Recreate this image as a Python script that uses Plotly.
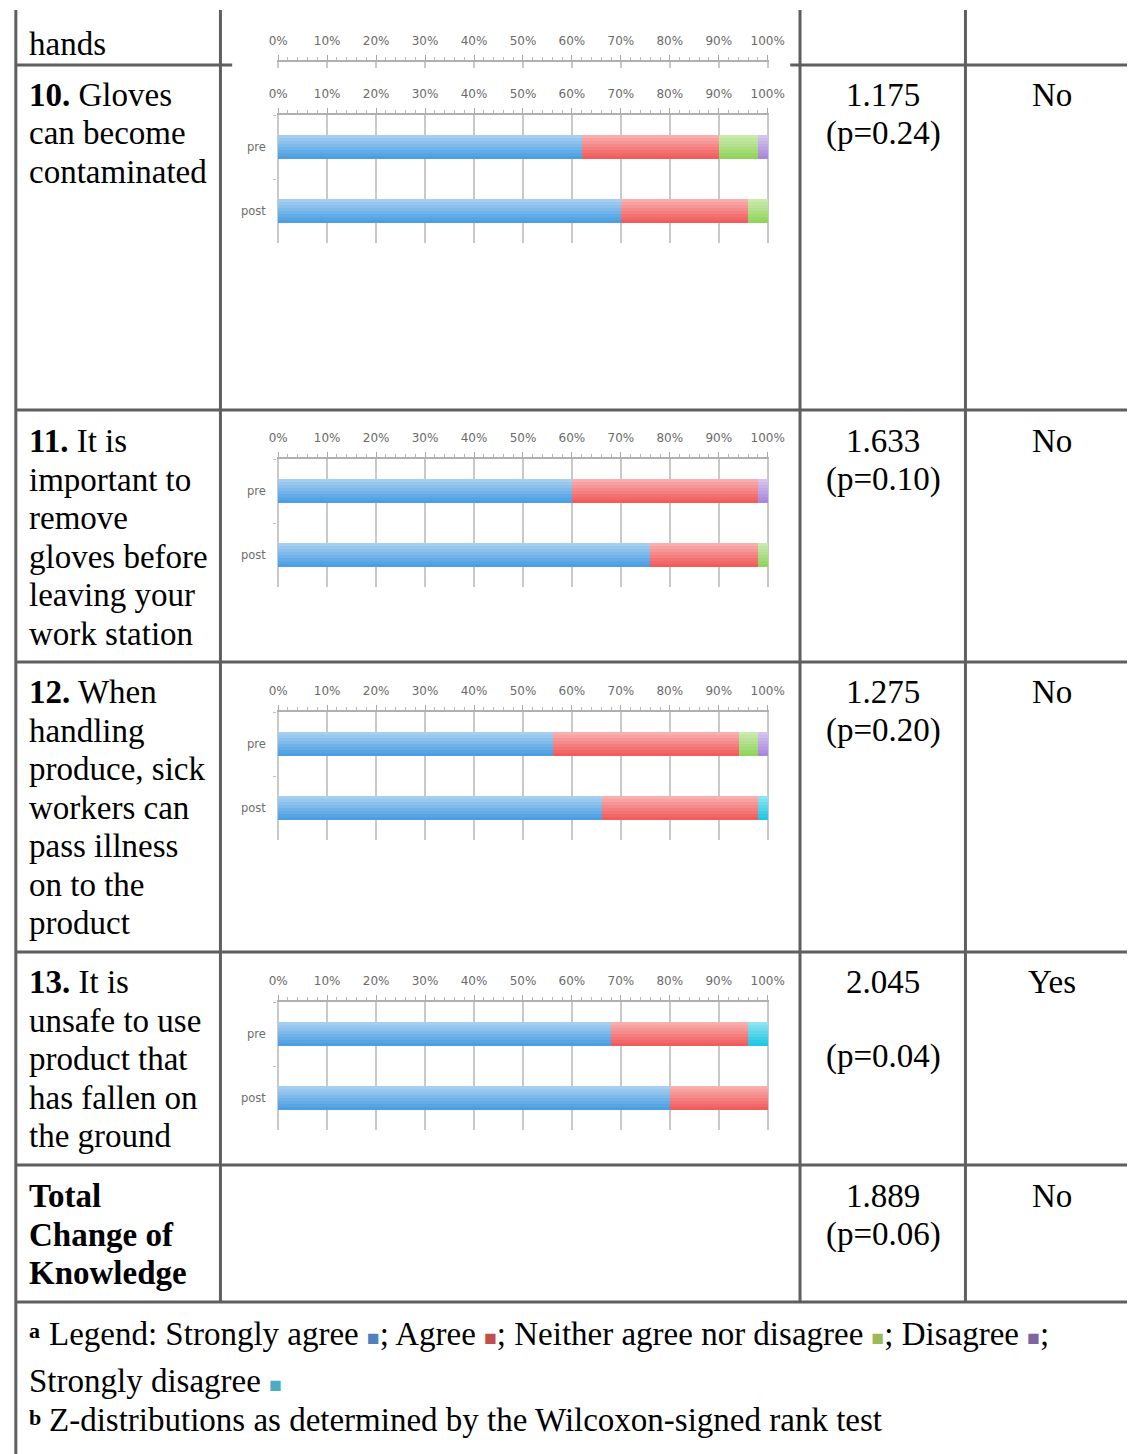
import numpy as np
import plotly.graph_objects as go

W, H = 1143, 1454

# ---- data -------------------------------------------------------------
categories = ["pre", "post"]
responses = ["Strongly agree", "Agree", "Neither agree nor disagree",
             "Disagree", "Strongly disagree"]

# percentage of respondents giving each response (same order as `responses`)
q10_pre = [62, 28, 8, 2, 0]
q10_post = [70, 26, 4, 0, 0]
q11_pre = [60, 38, 0, 2, 0]
q11_post = [76, 22, 2, 0, 0]
q12_pre = [56, 38, 4, 2, 0]
q12_post = [66, 32, 0, 0, 2]
q13_pre = [68, 28, 0, 0, 4]
q13_post = [80, 20, 0, 0, 0]

pct_ticks = [0, 10, 20, 30, 40, 50, 60, 70, 80, 90, 100]
pct_labels = ["0%", "10%", "20%", "30%", "40%", "50%", "60%", "70%", "80%", "90%", "100%"]

z_scores = ["1.175", "1.633", "1.275", "2.045", "1.889"]
p_values = ["(p=0.24)", "(p=0.10)", "(p=0.20)", "(p=0.04)", "(p=0.06)"]
significant = ["No", "No", "No", "Yes", "No"]

q10_text = ["<b>10.</b> Gloves", "can become", "contaminated"]
q11_text = ["<b>11.</b> It is", "important to", "remove", "gloves before",
            "leaving your", "work station"]
q12_text = ["<b>12.</b> When", "handling", "produce, sick", "workers can",
            "pass illness", "on to the", "product"]
q13_text = ["<b>13.</b> It is", "unsafe to use", "product that",
            "has fallen on", "the ground"]
total_text = ["<b>Total</b>", "<b>Change of</b>", "<b>Knowledge</b>"]

# ---- styling ----------------------------------------------------------
# darker lower tone of each bar; a white sheen lightens the upper part
bar_colors = ["#4b9fe2", "#f25c5c", "#93d45e", "#a987dc", "#1fc8e3"]
swatch_colors = ["#4f81bd", "#c0504d", "#9bbb59", "#8064a2", "#4bacc6"]
SERIF = "Liberation Serif, Times New Roman, serif"
BORDER = "#5f5f5f"
BAR_W = 0.39
SHEEN_STEPS = 8


def fx(x):
    return x / W


def fy(y):
    return 1 - y / H


fig = go.Figure()

# chart panels: (pre, post, pixel row of the top axis line)
panels = [(q10_pre, q10_post, 115), (q11_pre, q11_post, 459),
          (q12_pre, q12_post, 712), (q13_pre, q13_post, 1002)]
PANEL_H = 128
PAD = 0.3  # keeps the 0% and 100% gridlines inside the plot area
X0, X1 = 276 - PAD * 5, 776 + PAD * 5

axis_common = dict(
    range=[-PAD, 100 + PAD], side="top", tickvals=pct_ticks, ticktext=pct_labels,
    ticks="outside", ticklen=5, tickcolor="#a8a8a8", tickwidth=1.2,
    showline=True, linecolor="#b0b0b0", linewidth=1.5,
    showgrid=True, gridcolor="#c9c9c9", gridwidth=1.5, zeroline=False,
    minor=dict(dtick=2, ticks="outside", ticklen=3, tickcolor="#b8b8b8",
               showgrid=False),
    tickfont=dict(family="DejaVu Sans", size=12, color="#6a6a6a"),
    ticklabelstandoff=5, fixedrange=True,
    domain=[fx(X0), fx(X1)],
)

for i, (pre, post, top) in enumerate(panels, start=1):
    xa, ya = f"x{i}", f"y{i}"
    pre_base = np.concatenate([[0], np.cumsum(pre)[:-1]])
    post_base = np.concatenate([[0], np.cumsum(post)[:-1]])
    for j, name in enumerate(responses):
        vals = [pre[j], post[j]]
        bases = [pre_base[j], post_base[j]]
        fig.add_trace(go.Bar(
            y=categories, x=vals, base=bases, orientation="h",
            name=name, marker=dict(color=bar_colors[j], line_width=0),
            width=BAR_W, xaxis=xa, yaxis=ya, showlegend=False,
            hoverinfo="skip",
        ))
        # vertical sheen: light at the top edge, fading out to the bottom
        step = BAR_W / SHEEN_STEPS
        for k in range(SHEEN_STEPS):
            alpha = 0.5 * (1 - k / (SHEEN_STEPS - 1))
            if alpha <= 0:
                continue
            fig.add_trace(go.Bar(
                y=categories, x=vals, base=bases, orientation="h",
                marker=dict(color=f"rgba(255,255,255,{alpha:.3f})", line_width=0),
                width=step * 1.02, offset=-BAR_W / 2 + k * step,
                xaxis=xa, yaxis=ya, showlegend=False, hoverinfo="skip",
            ))
    fig.layout[f"xaxis{i}"] = dict(axis_common, anchor=ya)
    fig.layout[f"yaxis{i}"] = dict(
        anchor=xa, domain=[fy(top + PANEL_H), fy(top)],
        type="category", categoryarray=categories, range=[1.5, -0.5],
        ticks="outside", tickson="boundaries", ticklen=3, tickcolor="#c0c0c0",
        showgrid=False, showline=False, zeroline=False,
        tickfont=dict(family="DejaVu Sans", size=11.5, color="#6e6e6e"),
        ticklabelstandoff=10, fixedrange=True,
    )

# axis strip of the chart continuing from the row above
fig.add_trace(go.Bar(x=[], y=[], xaxis="x5", yaxis="y5", showlegend=False))
fig.layout["xaxis5"] = dict(axis_common, anchor="y5")
fig.layout["yaxis5"] = dict(anchor="x5", domain=[fy(68), fy(62)], visible=False,
                            range=[0, 1], fixedrange=True)

# ---- table grid -------------------------------------------------------
shapes = []


def hline(y, x0=8, x1=W):
    shapes.append(dict(type="line", xref="paper", yref="paper",
                       x0=fx(x0), x1=fx(x1), y0=fy(y), y1=fy(y),
                       line=dict(color=BORDER, width=3)))


def vline(x, y0, y1):
    shapes.append(dict(type="line", xref="paper", yref="paper",
                       x0=fx(x), x1=fx(x), y0=fy(y0), y1=fy(y1),
                       line=dict(color=BORDER, width=3)))


hline(65, 8, 229)
hline(65, 799, W)
for y in [410, 662, 952, 1165, 1302]:
    hline(y)
vline(8, 10, H)
for x in [217, 809, 978]:
    vline(x, 10, 1302)

# ---- cell text --------------------------------------------------------
annotations = []


def text(s, x, y, anchor="left", size=33):
    annotations.append(dict(text=s, x=fx(x), y=fy(y), xref="paper", yref="paper",
                            xanchor=anchor, yanchor="middle", showarrow=False,
                            font=dict(family=SERIF, size=size, color="black")))


text("hands", 19, 44)
LINE = 38.5
for lines, top in [(q10_text, 95), (q11_text, 441), (q12_text, 692),
                   (q13_text, 982), (total_text, 1196)]:
    for k, s in enumerate(lines):
        text(s, 19, top + k * LINE)

row_tops = [95, 441, 692, 982, 1196]
for k, top in enumerate(row_tops):
    text(z_scores[k], 894, top, "center")
    p_y = top + 2 * LINE - 3 if significant[k] == "Yes" else top + LINE
    text(p_values[k], 894, p_y, "center")
    text(significant[k], 1066, top, "center")


def swatch(c):
    return f'<span style="color:{c};font-size:21px">■</span>'


legend_line1 = ("Legend: Strongly agree " + swatch(swatch_colors[0]) + "; Agree "
                + swatch(swatch_colors[1]) + "; Neither agree nor disagree "
                + swatch(swatch_colors[2]) + "; Disagree "
                + swatch(swatch_colors[3]) + ";")
legend_line2 = "Strongly disagree " + swatch(swatch_colors[4])
text("<b>a</b>", 19, 1330, size=22)
text(legend_line1, 40, 1334)
text(legend_line2, 19, 1381)
text("<b>b</b>", 19, 1417, size=22)
text("Z-distributions as determined by the Wilcoxon-signed rank test", 40, 1420)

fig.update_layout(
    width=W, height=H, margin=dict(l=0, r=0, t=0, b=0),
    paper_bgcolor="white", plot_bgcolor="white",
    barmode="overlay", bargap=0, showlegend=False,
    shapes=shapes, annotations=annotations,
)

fig.write_html("out.html")
